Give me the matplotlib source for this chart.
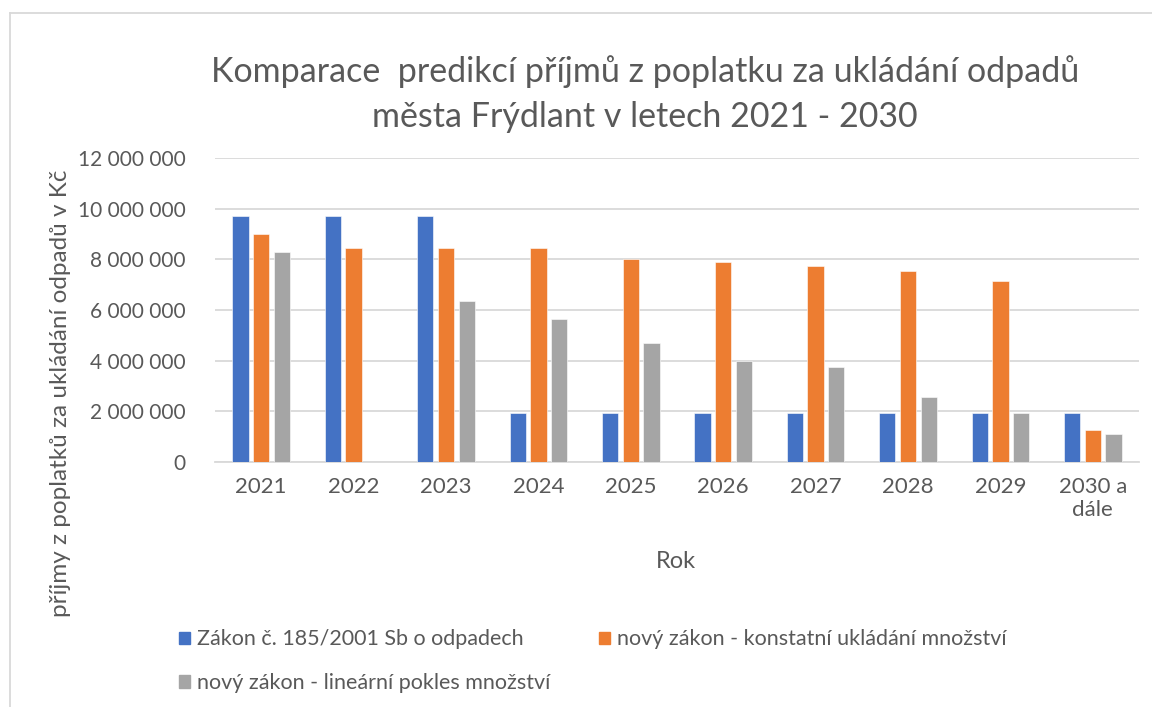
import numpy as np
import matplotlib.pyplot as plt
from matplotlib.patches import Patch
from matplotlib.ticker import FuncFormatter

plt.rcParams['font.family'] = ['Lato', 'DejaVu Sans']

# data
roky = ['2021', '2022', '2023', '2024', '2025', '2026', '2027', '2028', '2029', '2030 a\ndále']
zakon_185 = [9720000, 9720000, 9720000, 1920000, 1920000, 1920000, 1920000, 1920000, 1920000, 1920000]
novy_konst = [9010000, 8450000, 8450000, 8450000, 8010000, 7890000, 7750000, 7540000, 7140000, 1250000]
novy_linear = [8300000, 0, 6370000, 5660000, 4700000, 4000000, 3740000, 2570000, 1920000, 1110000]

nazvy = ['Zákon č. 185/2001 Sb o odpadech',
         'nový zákon - konstatní ukládání množství',
         'nový zákon - lineární pokles množství']
barvy = ['#4472C4', '#ED7D31', '#A5A5A5']
text_c = '#595959'

fig = plt.figure(figsize=(11.52, 7.07), dpi=100)
ax = fig.add_axes([215/1152, 1-462/707, 924/1152, 304/707])

x = np.arange(len(roky))
w = 0.176
step = 0.224
for i, (vals, c) in enumerate(zip([zakon_185, novy_konst, novy_linear], barvy)):
    ax.bar(x + (i-1)*step, vals, width=w, color=c, edgecolor='white', linewidth=0.4, zorder=3)

ax.set_xlim(-0.5, len(roky)-0.5)
ax.set_ylim(0, 12000000)
ax.set_yticks(np.arange(0, 12000001, 2000000))
ax.yaxis.set_major_formatter(FuncFormatter(lambda v, p: f'{int(v):,}'.replace(',', ' ')))
ax.grid(axis='y', color='#D9D9D9', linewidth=1.3, zorder=0)
for s in ['top', 'right', 'left']:
    ax.spines[s].set_visible(False)
ax.spines['bottom'].set_color('#D9D9D9')
ax.spines['bottom'].set_linewidth(1.3)
ax.set_xticks(x)
ax.set_xticklabels(roky)
ax.tick_params(axis='both', length=0, colors=text_c)
ax.tick_params(axis='y', pad=21, labelsize=15)
ax.tick_params(axis='x', pad=11, labelsize=16)

fig.text(645/1152, 1-94/707, 'Komparace  predikcí příjmů z poplatku za ukládání odpadů\nměsta Frýdlant v letech 2021 - 2030',
         ha='center', va='center', fontsize=24.5, color=text_c, linespacing=1.5)
fig.text(61/1152, 1-393/707, 'příjmy z poplatků za ukládání odpadů v Kč', rotation=90,
         ha='center', va='center', fontsize=17.5, color=text_c)
fig.text(676/1152, 1-562/707, 'Rok', ha='center', va='center', fontsize=17, color=text_c)

handles = [Patch(color=barvy[0]), Patch(color=barvy[2]), Patch(color=barvy[1])]
labels = [nazvy[0], nazvy[2], nazvy[1]]
fig.legend(handles, labels, ncol=2, loc='upper left', bbox_to_anchor=(160/1152, 1-610/707),
           frameon=False, fontsize=15.5, labelcolor=text_c, handlelength=0.5, handleheight=0.5,
           handletextpad=0.3, columnspacing=2.3, labelspacing=1.1)

# chart frame (only left and top edges are visible in the crop)
fig.add_artist(plt.Line2D([10/1152, 10/1152], [0, 1-13/707], color='#D9D9D9', lw=1.3))
fig.add_artist(plt.Line2D([10/1152, 1], [1-13/707, 1-13/707], color='#D9D9D9', lw=1.3))

fig.savefig('out.png', dpi=100)
